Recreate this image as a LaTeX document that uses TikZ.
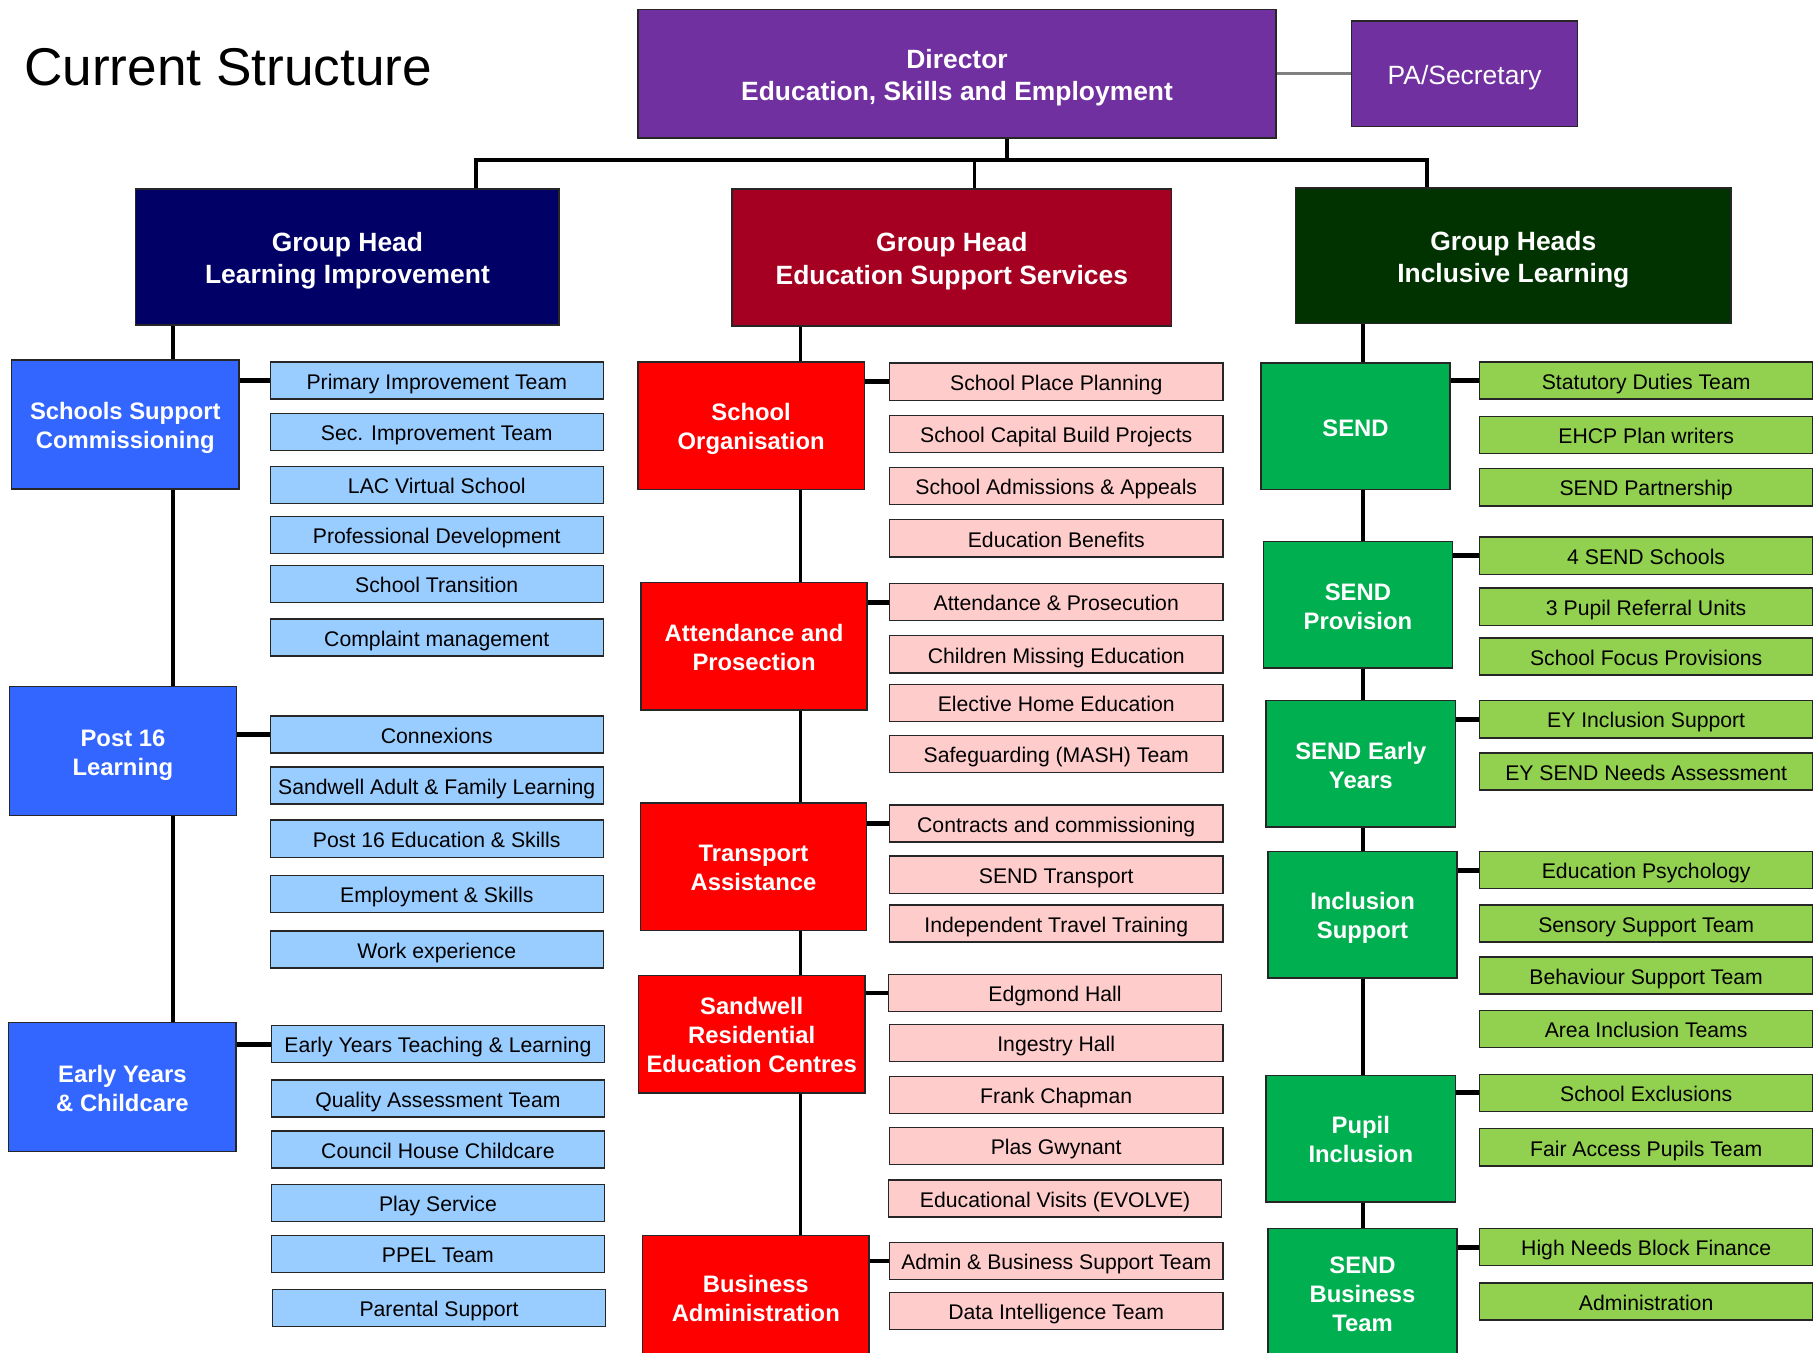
\documentclass[tikz,border=0pt]{standalone}
\usepackage{fontspec}
\setmainfont{Liberation Sans}
\definecolor{dirpurple}{HTML}{7030A0}
\definecolor{linavy}{HTML}{000066}
\definecolor{esswine}{HTML}{A50021}
\definecolor{ilgreen}{HTML}{003300}
\definecolor{liblue}{HTML}{3366FF}
\definecolor{lilight}{HTML}{99CCFF}
\definecolor{essred}{HTML}{FF0000}
\definecolor{esslight}{HTML}{FFCCCC}
\definecolor{ilmid}{HTML}{00B050}
\definecolor{illight}{HTML}{92D050}
% fixed line metrics for the box captions
\newcommand\hdtop{\rule{0pt}{\dimexpr 0.966em+1.4pt\relax}}
\newcommand\hdbot{\rule[-0.25em]{0pt}{0.25em}}
\begin{document}
\begin{tikzpicture}[
        x=0.025cm, y=-0.025cm,   % pixel grid, y runs downwards
        box/.style={draw=black!85, line width=0.9pt, rectangle, inner sep=1pt, align=center},
        top/.style={box, text=white, font=\bfseries\fontsize{16.2}{19.9}\selectfont},
        head/.style={box, text=white, font=\bfseries\fontsize{14.6}{17.8}\selectfont},
        lihead/.style={head, fill=liblue, minimum width=4.9cm, minimum height=2.775cm},
        esshead/.style={head, fill=essred, minimum width=4.875cm, minimum height=2.75cm},
        ilhead/.style={head, fill=ilmid, minimum width=4.075cm, minimum height=2.725cm},
        item/.style={box, minimum width=7.175cm, minimum height=0.8cm, text height=13.4pt, text depth=2.7pt, font=\fontsize{13}{15.6}\selectfont},
        liitem/.style={item, fill=lilight},
        essitem/.style={item, fill=esslight},
        ilitem/.style={item, fill=illight},
        trunk/.style={line width=2.4pt},   % vertical and top lines
        spur/.style={line width=3pt}       % head to first team
    ]
    \useasboundingbox (0,0) rectangle (1568,1166);

    % Title
    \node (title) [anchor=base west, font=\fontsize{32.6}{39}\selectfont] at (16,74) {Current Structure};

    % Director and PA
    \node (dir) [top, fill=dirpurple, minimum width=13.75cm, minimum height=2.775cm] at (825,63.5) {\hdtop Director\\Education, Skills and Employment\hdbot};
    \node (pa) [box, fill=dirpurple, text=white, font=\fontsize{16.2}{19.9}\selectfont, text height=16.4pt, text depth=3.4pt, minimum width=4.875cm, minimum height=2.275cm] at (1262.5,63.5) {PA/Secretary};
    \draw[black!50, line width=1.5pt] (dir.east) -- (pa.west);

    % Group heads
    \node (li) [top, fill=linavy, minimum width=9.125cm, minimum height=2.925cm] at (299.5,221.5) {\hdtop Group Head\\Learning Improvement\hdbot};
    \node (ess) [top, fill=esswine, minimum width=9.475cm, minimum height=2.95cm] at (820.5,222) {\hdtop Group Head\\Education Support Services\hdbot};
    \node (il) [top, fill=ilgreen, minimum width=9.375cm, minimum height=2.925cm] at (1304.5,220.5) {\hdtop Group Heads\\Inclusive Learning\hdbot};

    \coordinate (bar) at (868,138);
    \coordinate (lidrop) at (410,0);
    \coordinate (essdrop) at (840,0);
    \coordinate (ildrop) at (1230,0);
    \draw[trunk] (dir.south -| bar) -- (bar);
    \draw[trunk] (li.north -| lidrop) |- (bar) -| (il.north -| ildrop);
    \draw[trunk] (ess.north -| essdrop) -- (bar -| essdrop);

    % Learning Improvement column
    \node (ssc) [lihead] at (108,366) {\hdtop Schools Support\\Commissioning\hdbot};
    \node (p16) [lihead] at (106,647.5) {\hdtop Post 16\\Learning\hdbot};
    \node (eyc) [lihead] at (105.5,937) {\hdtop Early Years\\\& Childcare\hdbot};

    \node (pit) [liitem] at (376.5,328) {Primary Improvement Team};
    \node (sit) [liitem] at (376.5,372.5) {Sec. Improvement Team};
    \node (lac) [liitem] at (376.5,418) {LAC Virtual School};
    \node (prd) [liitem] at (376.5,461) {Professional Development};
    \node (stn) [liitem] at (376.5,503.5) {School Transition};
    \node (cmg) [liitem] at (376.5,549.5) {Complaint management};
    \node (cnx) [liitem] at (376.5,633) {Connexions};
    \node (safl) [liitem] at (376.5,677) {Sandwell Adult \& Family Learning};
    \node (pes) [liitem] at (376.5,723) {Post 16 Education \& Skills};
    \node (emp) [liitem] at (376.5,770.5) {Employment \& Skills};
    \node (wex) [liitem] at (376.5,818.5) {Work experience};
    \node (eytl) [liitem] at (377.5,900) {Early Years Teaching \& Learning};
    \node (qat) [liitem] at (377.5,947) {Quality Assessment Team};
    \node (chc) [liitem] at (377.5,991) {Council House Childcare};
    \node (psv) [liitem] at (377.5,1037) {Play Service};
    \node (ppel) [liitem] at (377.5,1081) {PPEL Team};
    \node (pas) [liitem] at (378.5,1127.5) {Parental Support};

    \coordinate (lix) at (149,0);
    \draw[trunk] (li.south -| lix) -- (ssc.north -| lix);
    \draw[trunk] (ssc.south -| lix) -- (p16.north -| lix);
    \draw[trunk] (p16.south -| lix) -- (eyc.north -| lix);
    \draw[spur] (ssc.east |- pit.west) -- (pit.west);
    \draw[spur] (p16.east |- cnx.west) -- (cnx.west);
    \draw[spur] (eyc.east |- eytl.west) -- (eytl.west);

    % Education Support Services column
    \node (sor) [esshead] at (647.5,367) {\hdtop School\\Organisation\hdbot};
    \node (apr) [esshead] at (650,557) {\hdtop Attendance and\\Prosection\hdbot};
    \node (tas) [esshead] at (649.5,747) {\hdtop Transport\\Assistance\hdbot};
    \node (srec) [esshead, minimum height=2.525cm] at (648,891.5) {\hdtop Sandwell\\Residential\\Education Centres\hdbot};
    \node (bad) [esshead, minimum height=2.65cm] at (651.5,1118) {\hdtop Business\\Administration\hdbot};

    \node (spp) [essitem] at (910.5,329) {School Place Planning};
    \node (scb) [essitem] at (910.5,374) {School Capital Build Projects};
    \node (saa) [essitem] at (910.5,419) {School Admissions \& Appeals};
    \node (ebn) [essitem] at (910.5,464) {Education Benefits};
    \node (apn) [essitem] at (910.5,519) {Attendance \& Prosecution};
    \node (cme) [essitem] at (910.5,564) {Children Missing Education};
    \node (ehe) [essitem] at (910.5,606) {Elective Home Education};
    \node (mash) [essitem] at (910.5,650) {Safeguarding (MASH) Team};
    \node (ccm) [essitem] at (910.5,710) {Contracts and commissioning};
    \node (sdt) [essitem] at (910.5,754) {SEND Transport};
    \node (itt) [essitem] at (910.5,796) {Independent Travel Training};
    \node (edg) [essitem] at (909.5,856) {Edgmond Hall};
    \node (ing) [essitem] at (910.5,899) {Ingestry Hall};
    \node (fch) [essitem] at (910.5,944) {Frank Chapman};
    \node (pgw) [essitem] at (910.5,988) {Plas Gwynant};
    \node (evv) [essitem] at (909.5,1033) {Educational Visits (EVOLVE)};
    \node (abs) [essitem] at (910.5,1087) {Admin \& Business Support Team};
    \node (dit) [essitem] at (910.5,1130) {Data Intelligence Team};

    \coordinate (essx) at (690,0);
    \draw[trunk] (ess.south -| essx) -- (sor.north -| essx);
    \draw[trunk] (sor.south -| essx) -- (apr.north -| essx);
    \draw[trunk] (apr.south -| essx) -- (tas.north -| essx);
    \draw[trunk] (tas.south -| essx) -- (srec.north -| essx);
    \draw[trunk] (srec.south -| essx) -- (bad.north -| essx);
    \draw[spur] (sor.east |- spp.west) -- (spp.west);
    \draw[spur] (apr.east |- apn.west) -- (apn.west);
    \draw[spur] (tas.east |- ccm.west) -- (ccm.west);
    \draw[spur] (srec.east |- edg.west) -- (edg.west);
    \draw[spur] (bad.east |- abs.west) -- (abs.west);

    % Inclusive Learning column
    \node (snd) [ilhead] at (1168.5,367.5) {\hdtop SEND\hdbot};
    \node (snp) [ilhead] at (1170.5,521.5) {\hdtop SEND\\Provision\hdbot};
    \node (sey) [ilhead] at (1173,658.5) {\hdtop SEND Early\\Years\hdbot};
    \node (ins) [ilhead] at (1174.5,788.5) {\hdtop Inclusion\\Support\hdbot};
    \node (pin) [ilhead] at (1173,981.5) {\hdtop Pupil\\Inclusion\hdbot};
    \node (sbt) [ilhead, minimum height=2.775cm] at (1174.5,1114.5) {\hdtop SEND\\Business\\Team\hdbot};

    \node (sdut) [ilitem] at (1419,328) {Statutory Duties Team};
    \node (ehcp) [ilitem] at (1419,375) {EHCP Plan writers};
    \node (spar) [ilitem] at (1419,420) {SEND Partnership};
    \node (sss) [ilitem] at (1419,479) {4 SEND Schools};
    \node (pru) [ilitem] at (1419,523) {3 Pupil Referral Units};
    \node (sfp) [ilitem] at (1419,566) {School Focus Provisions};
    \node (eyis) [ilitem] at (1419,620) {EY Inclusion Support};
    \node (eyna) [ilitem] at (1419,665) {EY SEND Needs Assessment};
    \node (epy) [ilitem] at (1419,750) {Education Psychology};
    \node (sst) [ilitem] at (1419,796) {Sensory Support Team};
    \node (bst) [ilitem] at (1419,841) {Behaviour Support Team};
    \node (ait) [ilitem] at (1419,887) {Area Inclusion Teams};
    \node (sex) [ilitem] at (1419,942) {School Exclusions};
    \node (fap) [ilitem] at (1419,989) {Fair Access Pupils Team};
    \node (hnb) [ilitem] at (1419,1075) {High Needs Block Finance};
    \node (adm) [ilitem] at (1419,1122) {Administration};

    \coordinate (ilx) at (1175,0);
    \draw[trunk] (il.south -| ilx) -- (snd.north -| ilx);
    \draw[trunk] (snd.south -| ilx) -- (snp.north -| ilx);
    \draw[trunk] (snp.south -| ilx) -- (sey.north -| ilx);
    \draw[trunk] (sey.south -| ilx) -- (ins.north -| ilx);
    \draw[trunk] (ins.south -| ilx) -- (pin.north -| ilx);
    \draw[trunk] (pin.south -| ilx) -- (sbt.north -| ilx);
    \draw[spur] (snd.east |- sdut.west) -- (sdut.west);
    \draw[spur] (snp.east |- sss.west) -- (sss.west);
    \draw[spur] (sey.east |- eyis.west) -- (eyis.west);
    \draw[spur] (ins.east |- epy.west) -- (epy.west);
    \draw[spur] (pin.east |- sex.west) -- (sex.west);
    \draw[spur] (sbt.east |- hnb.west) -- (hnb.west);
\end{tikzpicture}
\end{document}
